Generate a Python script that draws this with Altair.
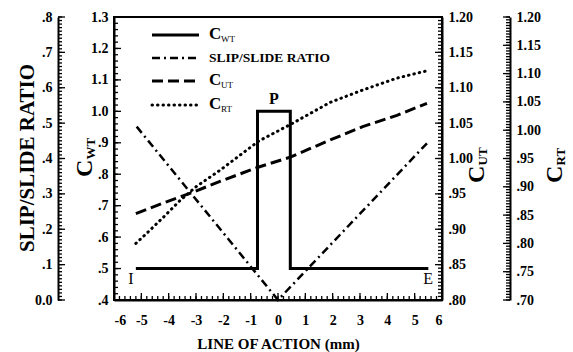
import altair as alt
import numpy as np
import pandas as pd

W, H = 328, 283
FONT = "'Liberation Serif', 'Times New Roman', Tinos, serif"

# ---- curves along the line of action (mm) ----
# load-sharing factor C_WT: single pair contact around the pitch point P
cwt_x = [-5.2, -0.75, -0.75, 0.45, 0.45, 5.5]
cwt_y = [0.5, 0.5, 1.0, 1.0, 0.5, 0.5]

# slip/slide ratio, zero at the pitch point
slip_x = [-5.17, 0.0, 5.45]
slip_y = [0.49, 0.0, 0.443]

# C_UT
cut_x = [-5.2, -4.2, -3.2, -2.1, -0.7, 0.45, 1.9, 3.1, 4.35, 5.45]
cut_y = [0.922, 0.937, 0.951, 0.968, 0.988, 1.002, 1.026, 1.045, 1.061, 1.078]

# C_RT
crt_x = [-5.2, -4.8, -4.2, -3.6, -3.0, -2.1, -0.7, 0.45, 1.9, 3.1, 4.35, 5.45]
crt_y = [0.800, 0.818, 0.846, 0.875, 0.900, 0.930, 0.981, 1.010, 1.049, 1.071, 1.092, 1.105]

# ---- axis tick values ----
x_major = list(range(-6, 7))
cwt_major = [0.4, 0.5, 0.6, 0.7, 0.8, 0.9, 1.0, 1.1, 1.2, 1.3]
slip_major = [0.0, 0.1, 0.2, 0.3, 0.4, 0.5, 0.6, 0.7, 0.8]
cut_major = [0.80, 0.85, 0.90, 0.95, 1.00, 1.05, 1.10, 1.15, 1.20]
crt_major = [0.70, 0.75, 0.80, 0.85, 0.90, 0.95, 1.00, 1.05, 1.10, 1.15, 1.20]


def minor(lo, hi, step):
    n = int(round((hi - lo) / step))
    return [round(lo + k * step, 4) for k in range(n + 1)]


xs = alt.Scale(domain=[-6, 6], nice=False, zero=False)
s_cwt = alt.Scale(domain=[0.4, 1.3], nice=False, zero=False)
s_slip = alt.Scale(domain=[0.0, 0.8], nice=False, zero=False)
s_cut = alt.Scale(domain=[0.8, 1.2], nice=False, zero=False)
s_crt = alt.Scale(domain=[0.7, 1.2], nice=False, zero=False)

SLIP_OFF = 56   # slip/slide axis sits left of the plot
CRT_OFF = 68    # C_RT axis sits right of the C_UT axis

lab1 = "datum.value < 1 ? substring(format(datum.value, '.1f'), 1) : format(datum.value, '.1f')"
lab2 = "datum.value < 1 ? substring(format(datum.value, '.2f'), 1) : format(datum.value, '.2f')"

x_axis = alt.Axis(values=x_major, ticks=False, domainWidth=2, labelPadding=13,
                  labelExpr="datum.value < 0 ? '-' + abs(datum.value) : '' + datum.value",
                  title="LINE OF ACTION (mm)", titleFont=FONT, titleFontSize=15,
                  titleFontWeight="bold", titlePadding=9, titleColor="black")
cwt_axis = alt.Axis(orient="left", values=cwt_major, ticks=False, domainWidth=2,
                    labelPadding=6, labelExpr=lab1, title=None)
slip_axis = alt.Axis(orient="left", offset=SLIP_OFF, values=slip_major, ticks=False,
                     domainWidth=2, labelPadding=6, title=None,
                     labelExpr="datum.value == 0 ? '0.0' : substring(format(datum.value, '.1f'), 1)")
cut_axis = alt.Axis(orient="right", values=cut_major, ticks=False, domainWidth=2,
                    labelPadding=6, labelExpr=lab2, title=None)
crt_axis = alt.Axis(orient="right", offset=CRT_OFF, values=crt_major, ticks=False,
                    domainWidth=2, labelPadding=6, labelExpr=lab2, title=None)


def curve(x, y, yscale, width, dash=None, cap="butt", xaxis=None, yaxis=None):
    df = pd.DataFrame({"x": x, "y": y, "i": list(range(len(x)))})
    kw = dict(color="black", strokeWidth=width, strokeCap=cap)
    if dash:
        kw["strokeDash"] = dash
    return alt.Chart(df).mark_line(**kw).encode(
        x=alt.X("x:Q", scale=xs, axis=xaxis),
        y=alt.Y("y:Q", scale=yscale, axis=yaxis),
        order="i:Q",
    )


DASHDOT = [8, 4, 2, 4]
DASH = [11, 5]
DOT = [0.5, 5]

layers = [
    curve(cwt_x, cwt_y, s_cwt, 3, xaxis=x_axis, yaxis=cwt_axis),
    curve(slip_x, slip_y, s_slip, 2.5, dash=DASHDOT, yaxis=slip_axis),
    curve(cut_x, cut_y, s_cut, 3, dash=DASH, yaxis=cut_axis),
    curve(crt_x, crt_y, s_crt, 3, dash=DOT, cap="round", yaxis=crt_axis),
]


# inward-pointing ticks
def yticks(vals, yscale, x0, x1):
    return alt.Chart(pd.DataFrame({"v": vals})).mark_rule(color="black", strokeWidth=1.3).encode(
        y=alt.Y("v:Q", scale=yscale, axis=None), x=alt.value(x0), x2=alt.value(x1))


def xticks(vals, length):
    return alt.Chart(pd.DataFrame({"v": vals})).mark_rule(color="black", strokeWidth=1.3).encode(
        x=alt.X("v:Q", scale=xs, axis=None), y=alt.value(H), y2=alt.value(H - length))


layers += [
    xticks(x_major, 7), xticks(minor(-6, 6, 0.2), 4),
    yticks(cwt_major, s_cwt, 0, 7), yticks(minor(0.4, 1.3, 0.02), s_cwt, 0, 4),
    yticks(slip_major, s_slip, -SLIP_OFF, -SLIP_OFF + 7),
    yticks(minor(0.0, 0.8, 0.01), s_slip, -SLIP_OFF, -SLIP_OFF + 4),
    yticks(cut_major, s_cut, W - 7, W), yticks(minor(0.8, 1.2, 0.005), s_cut, W - 4, W),
    yticks(crt_major, s_crt, W + CRT_OFF - 7, W + CRT_OFF),
    yticks(minor(0.7, 1.2, 0.005), s_crt, W + CRT_OFF - 4, W + CRT_OFF),
]


def label(text, x, y, size, weight="bold", angle=0, align="left", baseline="middle"):
    kw = dict(font=FONT, fontSize=size, fontWeight=weight, color="black",
              align=align, baseline=baseline)
    if angle:
        kw["angle"] = angle
    return alt.Chart(pd.DataFrame({"t": [text]})).mark_text(**kw).encode(
        x=alt.value(x), y=alt.value(y), text="t:N")


# rotated axis titles with subscripts (read bottom to top)
def vtitle(main, sub, x, y):
    return [label(main, x, y, 24, angle=270),
            label(sub, x + 6, y - 17.5, 13, angle=270)]


layers += vtitle("C", "WT", -29, 160)
layers += vtitle("C", "UT", W + 35, 166)
layers += vtitle("C", "RT", W + 113, 166)
layers.append(label("SLIP/SLIDE RATIO", -86, 141, 21, angle=270, align="center"))

# legend
legend_rows = [18, 41, 64, 88]
legend_styles = [dict(), dict(strokeDash=DASHDOT, strokeWidth=2.5),
                 dict(strokeDash=DASH), dict(strokeDash=DOT, strokeCap="round")]
for ry, st in zip(legend_rows, legend_styles):
    kw = dict(color="black", strokeWidth=3)
    kw.update(st)
    layers.append(alt.Chart(pd.DataFrame({"k": [0]})).mark_rule(**kw).encode(
        x=alt.value(38), x2=alt.value(85), y=alt.value(ry)))
for ry, sub in zip([legend_rows[0], legend_rows[2], legend_rows[3]], ["WT", "UT", "RT"]):
    layers.append(label("C", 95, ry - 1, 17))
    layers.append(label(sub, 107, ry + 4, 9, weight="normal"))
layers.append(label("SLIP/SLIDE RATIO", 95, legend_rows[1], 13.5))

# point labels: I (start), P (pitch point), E (end of contact)
marks_df = pd.DataFrame({"t": ["I", "P", "E"], "x": [-5.38, -0.15, 5.49],
                         "y": [0.467, 1.0, 0.467]})
base_txt = alt.Chart(marks_df)
layers.append(base_txt.transform_filter("datum.t != 'P'").mark_text(
    font=FONT, fontSize=16, color="black", baseline="middle").encode(
    x=alt.X("x:Q", scale=xs, axis=None), y=alt.Y("y:Q", scale=s_cwt, axis=None), text="t:N"))
layers.append(base_txt.transform_filter("datum.t == 'P'").mark_text(
    font=FONT, fontSize=16, fontWeight="bold", color="black", baseline="bottom", dy=-4).encode(
    x=alt.X("x:Q", scale=xs, axis=None), y=alt.Y("y:Q", scale=s_cwt, axis=None), text="t:N"))

chart = alt.layer(*layers).resolve_scale(x="independent", y="independent").properties(
    width=W, height=H,
    autosize=alt.AutoSizeParams(type="none"),
    padding={"left": 114, "top": 17, "right": 131, "bottom": 52},
).configure_view(stroke="black", strokeWidth=2).configure_axis(
    grid=False, domainColor="black", labelColor="black", labelFont=FONT,
    labelFontSize=14, labelFontWeight="bold",
)

chart.save("out.html", embed_options={"renderer": "svg", "actions": False})
